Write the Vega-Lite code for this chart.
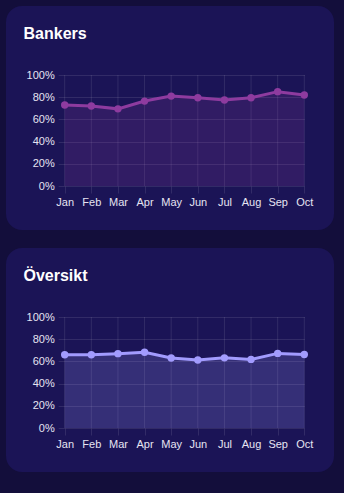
{
  "$schema": "https://vega.github.io/schema/vega-lite/v6.json",
  "background": "#130e3b",
  "padding": {"left": 6, "top": 6, "right": 10, "bottom": 21},
  "spacing": 18,
  "datasets": {
    "bankers": [
      {"month": "Jan", "value": 0.73},
      {"month": "Feb", "value": 0.72},
      {"month": "Mar", "value": 0.695},
      {"month": "Apr", "value": 0.765},
      {"month": "May", "value": 0.81},
      {"month": "Jun", "value": 0.795},
      {"month": "Jul", "value": 0.775},
      {"month": "Aug", "value": 0.795},
      {"month": "Sep", "value": 0.85},
      {"month": "Oct", "value": 0.82}
    ],
    "oversikt": [
      {"month": "Jan", "value": 0.66},
      {"month": "Feb", "value": 0.66},
      {"month": "Mar", "value": 0.67},
      {"month": "Apr", "value": 0.683},
      {"month": "May", "value": 0.63},
      {"month": "Jun", "value": 0.612},
      {"month": "Jul", "value": 0.632},
      {"month": "Aug", "value": 0.618},
      {"month": "Sep", "value": 0.672},
      {"month": "Oct", "value": 0.662}
    ]
  },
  "config": {
    "view": {"fill": "#1b1456", "stroke": null, "cornerRadius": 16},
    "axis": {
      "labelFont": "Liberation Sans",
      "labelFontSize": 11,
      "labelColor": "#e6e4f2",
      "gridColor": "#ffffff",
      "gridOpacity": 0.1,
      "tickColor": "#ffffff",
      "tickOpacity": 0.1,
      "domain": false,
      "title": null
    }
  },
  "vconcat": [
    {
      "width": 328,
      "height": 224,
      "title": {"text": "Bankers", "anchor": "start", "frame": "group", "offset": -49.3, "dx": 17.5, "baseline": "alphabetic", "fontSize": 16, "fontWeight": "bold", "color": "#ffffff", "font": "Liberation Sans"},
      "data": {"name": "bankers"},
      "encoding": {
        "x": {"field": "month", "type": "ordinal", "sort": null, "scale": {"type": "point", "range": [58.7, 298.3], "padding": 0}, "axis": {"orient": "bottom", "offset": -44, "labelAngle": 0, "tickSize": 7, "labelPadding": 3, "grid": false}},
        "y": {"field": "value", "type": "quantitative", "scale": {"domain": [0, 1], "range": [180, 69]}, "axis": {"values": [0, 0.2, 0.4, 0.6, 0.8, 1], "format": ".0%", "offset": -58.7, "tickSize": 6.5, "labelPadding": 4}}
      },
      "layer": [
        {"mark": {"type": "rule", "color": "#ffffff", "opacity": 0.1, "strokeWidth": 1}, "encoding": {"y": {"datum": 0}, "y2": {"datum": 1}}},
        {"mark": {"type": "area", "color": "#8e3b9f", "opacity": 0.2}},
        {"mark": {"type": "line", "color": "#8e3b9f", "strokeWidth": 3}},
        {"mark": {"type": "point", "filled": true, "color": "#8e3b9f", "size": 55, "opacity": 1}}
      ]
    },
    {
      "width": 328,
      "height": 224,
      "title": {"text": "Översikt", "anchor": "start", "frame": "group", "offset": -49.3, "dx": 17.5, "baseline": "alphabetic", "fontSize": 16, "fontWeight": "bold", "color": "#ffffff", "font": "Liberation Sans"},
      "data": {"name": "oversikt"},
      "encoding": {
        "x": {"field": "month", "type": "ordinal", "sort": null, "scale": {"type": "point", "range": [58.7, 298.3], "padding": 0}, "axis": {"orient": "bottom", "offset": -44, "labelAngle": 0, "tickSize": 7, "labelPadding": 3, "grid": false}},
        "y": {"field": "value", "type": "quantitative", "scale": {"domain": [0, 1], "range": [180, 69]}, "axis": {"values": [0, 0.2, 0.4, 0.6, 0.8, 1], "format": ".0%", "offset": -58.7, "tickSize": 6.5, "labelPadding": 4}}
      },
      "layer": [
        {"mark": {"type": "rule", "color": "#ffffff", "opacity": 0.1, "strokeWidth": 1}, "encoding": {"y": {"datum": 0}, "y2": {"datum": 1}}},
        {"mark": {"type": "area", "color": "#a29bfe", "opacity": 0.2}},
        {"mark": {"type": "line", "color": "#a29bfe", "strokeWidth": 3}},
        {"mark": {"type": "point", "filled": true, "color": "#a29bfe", "size": 55, "opacity": 1}}
      ]
    }
  ]
}
